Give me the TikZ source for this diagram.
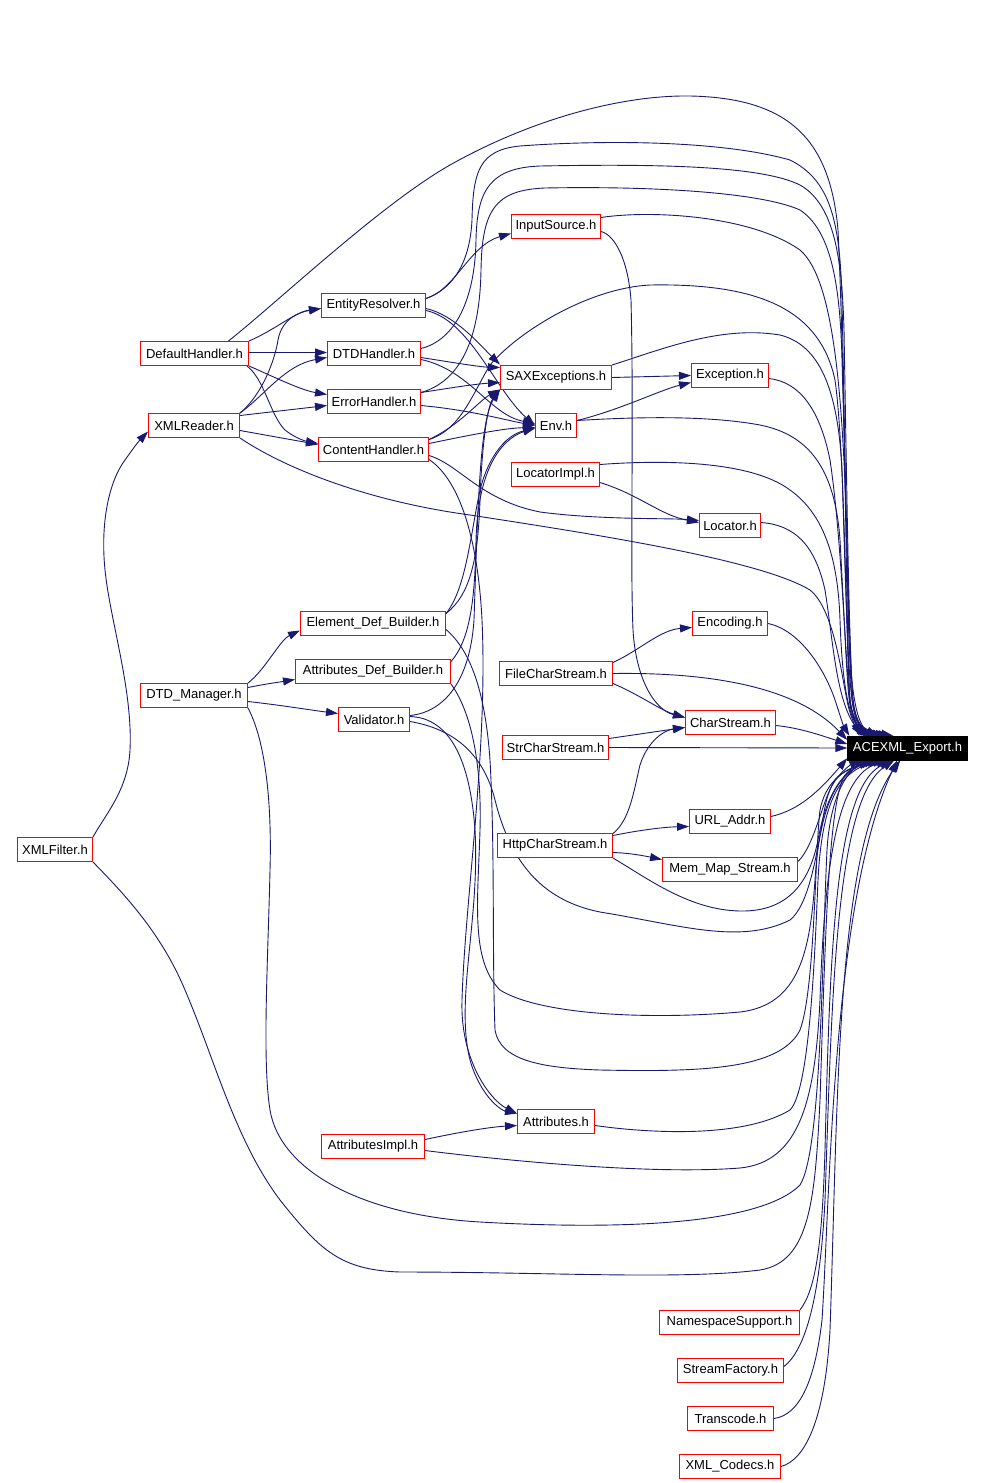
\documentclass[tikz,border=0pt]{standalone}
\usepackage{fontspec}
\setmainfont{Liberation Sans}
\usetikzlibrary{arrows.meta}
\definecolor{edgec}{RGB}{25,25,112}
\pgfdeclarelayer{bg}
\pgfsetlayers{bg,main}
\tikzset{
  box/.style={draw=red, fill=white, line width=1pt, minimum height=24pt, inner xsep=3pt, inner ysep=0pt, font=\fontsize{13}{15}\selectfont},
  rootbox/.style={draw=black, fill=black, text=white, minimum height=24pt, inner xsep=3pt, inner ysep=0pt, font=\fontsize{13}{15}\selectfont},
  lnk/.style={draw=edgec, line width=0.9pt, -{Triangle[length=12pt,width=8pt]}, fill=none}
}
\begin{document}
\begin{tikzpicture}[x=1pt,y=-1pt]
\useasboundingbox (0,0) rectangle (984,1483);
% nodes
\node[rootbox, minimum width=120pt] (ace) at (907.5,748) {ACEXML\_Export.h};
\node[box, minimum width=108pt] (dh) at (194.5,353.5) {DefaultHandler.h};
\node[box, minimum width=91pt] (xr) at (194,425.5) {XMLReader.h};
\node[box, minimum width=104pt] (er) at (373.5,305.5) {EntityResolver.h};
\node[box, minimum width=93pt] (dtd) at (374,353.5) {DTDHandler.h};
\node[box, minimum width=93pt] (eh) at (374,401.5) {ErrorHandler.h};
\node[box, minimum width=110pt] (ch) at (373.5,449.5) {ContentHandler.h};
\node[box, minimum width=89pt] (is) at (556,226.5) {InputSource.h};
\node[box, minimum width=111pt] (sax) at (556,377.5) {SAXExceptions.h};
\node[box, minimum width=41pt] (env) at (556,425.5) {Env.h};
\node[box, minimum width=88pt] (li) at (555.5,474.5) {LocatorImpl.h};
\node[box, minimum width=77pt] (exc) at (730,375.5) {Exception.h};
\node[box, minimum width=61pt] (loc) at (730,525.5) {Locator.h};
\node[box, minimum width=75pt] (enc) at (730,623.5) {Encoding.h};
\node[box, minimum width=90pt] (cs) at (730.5,722.5) {CharStream.h};
\node[box, minimum width=81pt] (url) at (730,821.5) {URL\_Addr.h};
\node[box, minimum width=135pt] (mm) at (730,869.5) {Mem\_Map\_Stream.h};
\node[box, minimum width=113pt] (fcs) at (556,673.5) {FileCharStream.h};
\node[box, minimum width=106pt] (scs) at (555.5,747.5) {StrCharStream.h};
\node[box, minimum width=115pt] (hcs) at (555,845.5) {HttpCharStream.h};
\node[box, minimum width=145pt] (edb) at (373,623.5) {Element\_Def\_Builder.h};
\node[box, minimum width=155pt] (adb) at (373,671.5) {Attributes\_Def\_Builder.h};
\node[box, minimum width=71pt] (val) at (374,719.5) {Validator.h};
\node[box, minimum width=107pt] (dtdm) at (194,695.5) {DTD\_Manager.h};
\node[box, minimum width=75pt] (xf) at (55,849.5) {XMLFilter.h};
\node[box, minimum width=77pt] (att) at (556,1121.5) {Attributes.h};
\node[box, minimum width=103pt] (ai) at (373,1146.5) {AttributesImpl.h};
\node[box, minimum width=140pt] (ns) at (729.5,1322.5) {NamespaceSupport.h};
\node[box, minimum width=106pt] (sf) at (730.5,1370.5) {StreamFactory.h};
\node[box, minimum width=86pt] (tc) at (730.5,1418.5) {Transcode.h};
\node[box, minimum width=101pt] (xc) at (730,1466.5) {XML\_Codecs.h};

\begin{pgfonlayer}{bg}
% XMLFilter
\draw[lnk] (xf.north east) .. controls (105,815) and (128,790) .. (130,750) .. controls (133,690) and (110,620) .. (105,570) .. controls (100,520) and (110,480) .. (125,460) .. controls (132,450) and (138,442) .. ([yshift=-6pt]xr.west);
\draw[lnk] (xf.south east) .. controls (120,890) and (160,930) .. (185,990) .. controls (215,1060) and (235,1140) .. (280,1200) .. controls (320,1250) and (340,1270) .. (400,1272) .. controls (550,1272) and (680,1280) .. (760,1270) .. controls (810,1262) and (815,1200) .. (820,1100) .. controls (825,950) and (828,800) .. (845,775) .. controls (852,767) and (860,762) .. ([xshift=20pt]ace.south west);
% DTD_Manager
\draw[lnk] (dtdm.north east) .. controls (265,670) and (280,640) .. ([yshift=-7pt]edb.west);
\draw[lnk] ([yshift=8pt]dtdm.east) .. controls (265,684) and (280,682) .. ([yshift=-8pt]adb.west);
\draw[lnk] ([yshift=-6pt]dtdm.east) .. controls (280,705) and (310,710) .. ([yshift=6pt]val.west);
\draw[lnk] (dtdm.south east) .. controls (265,740) and (272,800) .. (270,870) .. controls (268,960) and (262,1060) .. (270,1110) .. controls (280,1170) and (360,1215) .. (480,1222) .. controls (620,1230) and (760,1225) .. (800,1185) .. controls (822,1150) and (822,950) .. (827,850) .. controls (830,800) and (845,772) .. ([xshift=23pt]ace.south west);
% DefaultHandler
\draw[lnk] (dh.north east) .. controls (275,330) and (295,312) .. ([yshift=-3pt]er.west);
\draw[lnk] ([yshift=1pt]dh.east) -- ([yshift=1pt]dtd.west);
\draw[lnk] (dh.south east) .. controls (270,375) and (300,390) .. ([yshift=7pt]eh.west);
\draw[lnk] ([xshift=-2pt]dh.south east) .. controls (265,380) and (270,415) .. (285,430) .. controls (295,438) and (305,441) .. ([yshift=6pt]ch.west);
\draw[lnk] ([xshift=34pt]dh.north) .. controls (280,300) and (380,205) .. (450,165) .. controls (530,120) and (620,95) .. (690,96) .. controls (790,98) and (830,140) .. (838,230) .. controls (846,400) and (846,650) .. (850,700) .. controls (852,720) and (860,730) .. ([xshift=46pt]ace.north west);
% XMLReader
\draw[lnk] (xr.north east) .. controls (262,395) and (275,360) .. (278,340) .. controls (282,318) and (300,312) .. ([yshift=-3pt]er.west);
\draw[lnk] (xr.north east) .. controls (265,395) and (285,365) .. ([yshift=-4pt]dtd.west);
\draw[lnk] ([yshift=10pt]xr.east) -- ([yshift=-4pt]eh.west);
\draw[lnk] ([yshift=-5pt]xr.east) -- ([yshift=5pt]ch.west);
\draw[lnk] (xr.south east) .. controls (280,465) and (360,500) .. (470,515) .. controls (600,535) and (760,560) .. (810,590) .. controls (835,610) and (842,680) .. (848,705) .. controls (852,722) and (858,732) .. ([xshift=12pt]ace.north west);
% EntityResolver
\draw[lnk] ([yshift=7pt]er.east) .. controls (455,290) and (470,245) .. ([yshift=-7pt]is.west);
\draw[lnk] ([yshift=-3pt]er.east) .. controls (455,315) and (480,345) .. ([yshift=13pt]sax.west);
\draw[lnk] ([yshift=-5pt]er.east) .. controls (470,320) and (495,390) .. (env.west);
\draw[lnk] ([yshift=7pt]er.east) .. controls (455,288) and (470,260) .. (472,220) .. controls (473,170) and (480,150) .. (520,146) .. controls (600,140) and (720,140) .. (790,160) .. controls (830,180) and (840,220) .. (842,300) .. controls (846,500) and (848,650) .. (852,700) .. controls (855,725) and (862,732) .. ([xshift=43pt]ace.north west);
% DTDHandler
\draw[lnk] ([yshift=-4pt]dtd.east) .. controls (450,362) and (480,367) .. ([yshift=10pt]sax.west);
\draw[lnk] ([yshift=-6pt]dtd.east) .. controls (470,370) and (490,415) .. ([yshift=2pt]env.west);
\draw[lnk] ([yshift=5pt]dtd.east) .. controls (455,340) and (475,300) .. (476,240) .. controls (477,190) and (490,168) .. (540,166) .. controls (650,164) and (760,165) .. (800,185) .. controls (835,205) and (842,260) .. (844,330) .. controls (847,500) and (849,650) .. (853,700) .. controls (856,725) and (864,732) .. ([xshift=40pt]ace.north west);
% ErrorHandler
\draw[lnk] ([yshift=9pt]eh.east) .. controls (450,388) and (475,384) .. ([yshift=-5pt]sax.west);
\draw[lnk] ([yshift=-4pt]eh.east) .. controls (470,410) and (505,420) .. (env.west);
\draw[lnk] ([yshift=9pt]eh.east) .. controls (465,380) and (480,330) .. (481,270) .. controls (482,210) and (495,190) .. (545,188) .. controls (650,186) and (760,192) .. (800,210) .. controls (830,230) and (840,280) .. (842,360) .. controls (846,500) and (849,650) .. (853,700) .. controls (856,725) and (864,732) .. ([xshift=37pt]ace.north west);
% ContentHandler
\draw[lnk] ([yshift=10pt]ch.east) .. controls (460,425) and (480,400) .. ([yshift=-12pt]sax.west);
\draw[lnk] ([yshift=6pt]ch.east) .. controls (470,435) and (505,428) .. ([yshift=-2pt]env.west);
\draw[lnk] ([yshift=-6pt]ch.east) .. controls (460,465) and (480,500) .. (540,512) .. controls (600,520) and (670,518) .. ([yshift=5pt]loc.west);
\draw[lnk] ([yshift=-10pt]ch.east) .. controls (460,480) and (478,540) .. (482,620) .. controls (488,750) and (465,900) .. (462,1000) .. controls (460,1060) and (490,1100) .. ([yshift=8pt]att.west);
\draw[lnk] ([yshift=10pt]ch.east) .. controls (460,430) and (472,395) .. (490,365) .. controls (520,330) and (590,288) .. (650,285) .. controls (760,283) and (820,310) .. (835,380) .. controls (845,450) and (846,650) .. (850,700) .. controls (853,722) and (860,731) .. ([xshift=34pt]ace.north west);
% InputSource
\draw[lnk] ([yshift=9pt]is.east) .. controls (650,210) and (750,215) .. (800,250) .. controls (835,280) and (845,400) .. (848,600) .. controls (849,680) and (855,725) .. ([xshift=31pt]ace.north west);
\draw[lnk] ([yshift=-5pt]is.east) .. controls (615,235) and (628,260) .. (631,300) .. controls (634,420) and (630,560) .. (633,630) .. controls (636,680) and (655,710) .. ([yshift=5pt]cs.west);
% SAXExceptions, Env, Exception
\draw[lnk] (sax.east) -- (exc.west);
\draw[lnk] (sax.north east) .. controls (660,350) and (720,325) .. (780,335) .. controls (820,345) and (838,390) .. (842,470) .. controls (846,600) and (848,680) .. (853,705) .. controls (857,725) and (864,733) .. ([xshift=28pt]ace.north west);
\draw[lnk] ([yshift=5pt]env.east) .. controls (620,410) and (660,390) .. ([yshift=-7pt]exc.west);
\draw[lnk] ([yshift=5pt]env.east) .. controls (620,418) and (700,414) .. (760,425) .. controls (810,435) and (835,470) .. (840,540) .. controls (845,630) and (847,690) .. (850,705) .. controls (853,722) and (860,731) .. ([xshift=22pt]ace.north west);
\draw[lnk] ([yshift=-3pt]exc.east) .. controls (800,382) and (820,410) .. (830,460) .. controls (842,540) and (845,660) .. (850,700) .. controls (853,722) and (860,731) .. ([xshift=25pt]ace.north west);
% LocatorImpl, Locator, Encoding
\draw[lnk] ([yshift=-8pt]li.east) .. controls (640,495) and (660,515) .. ([yshift=3pt]loc.west);
\draw[lnk] ([yshift=10pt]li.east) .. controls (660,460) and (750,460) .. (790,490) .. controls (825,515) and (838,560) .. (840,620) .. controls (842,680) and (848,715) .. ([xshift=18pt]ace.north west);
\draw[lnk] ([yshift=3pt]loc.east) .. controls (795,525) and (815,545) .. (825,590) .. controls (833,640) and (836,700) .. ([xshift=15pt]ace.north west);
\draw[lnk] (enc.east) .. controls (800,630) and (825,670) .. (835,700) .. controls (840,715) and (843,725) .. ([xshift=2pt]ace.north west);
% CharStreams
\draw[lnk] ([yshift=11pt]fcs.east) .. controls (640,650) and (660,630) .. ([yshift=-4pt]enc.west);
\draw[lnk] ([yshift=-10pt]fcs.east) .. controls (640,695) and (660,710) .. ([yshift=5pt]cs.west);
\draw[lnk] (fcs.east) .. controls (720,672) and (800,690) .. ([yshift=8pt]ace.west);
\draw[lnk] ([yshift=-3pt]cs.east) .. controls (800,728) and (820,735) .. ([yshift=4pt]ace.west);
\draw[lnk] ([yshift=9pt]scs.east) .. controls (640,734) and (660,731) .. ([yshift=-5pt]cs.west);
\draw[lnk] (scs.east) -- (ace.west);
\draw[lnk] ([yshift=12pt]hcs.east) .. controls (630,820) and (634,790) .. (640,765) .. controls (648,740) and (665,730) .. ([yshift=-5pt]cs.west);
\draw[lnk] ([yshift=10pt]hcs.east) .. controls (640,830) and (665,827) .. ([yshift=-5pt]url.west);
\draw[lnk] ([yshift=-7pt]hcs.east) .. controls (630,853) and (645,856) .. ([yshift=10pt]mm.west);
\draw[lnk] (hcs.south east) .. controls (650,880) and (690,910) .. (740,911) .. controls (790,912) and (810,880) .. (818,840) .. controls (825,800) and (840,772) .. ([xshift=26pt]ace.south west);
\draw[lnk] ([yshift=5pt]url.east) .. controls (800,810) and (820,790) .. ([yshift=2pt]ace.south west);
\draw[lnk] ([yshift=8pt]mm.east) .. controls (815,845) and (822,800) .. (835,780) .. controls (845,768) and (852,764) .. ([xshift=14pt]ace.south west);
% builders and validator
\draw[lnk] ([yshift=10pt]edb.east) .. controls (470,595) and (478,560) .. (480,500) .. controls (482,440) and (488,405) .. ([yshift=-12pt]sax.west);
\draw[lnk] ([yshift=10pt]edb.east) .. controls (465,590) and (470,540) .. (478,500) .. controls (485,460) and (505,435) .. ([yshift=-3pt]env.west);
\draw[lnk] ([yshift=10pt]adb.east) .. controls (470,640) and (475,600) .. (476,540) .. controls (478,470) and (500,440) .. ([yshift=-2pt]env.west);
\draw[lnk] ([yshift=4pt]val.east) .. controls (445,712) and (470,680) .. (474,620) .. controls (478,500) and (480,420) .. ([yshift=-12pt]sax.west);
\draw[lnk] ([yshift=3pt]val.east) .. controls (450,718) and (470,760) .. (475,830) .. controls (480,920) and (455,1000) .. (470,1060) .. controls (480,1095) and (500,1110) .. ([yshift=8pt]att.west);
\draw[lnk] ([yshift=-6pt]edb.east) .. controls (470,650) and (485,690) .. (490,760) .. controls (495,850) and (492,950) .. (495,1030) .. controls (500,1060) and (540,1068) .. (600,1070) .. controls (700,1072) and (780,1070) .. (800,1030) .. controls (815,990) and (815,850) .. (820,810) .. controls (825,785) and (840,770) .. ([xshift=29pt]ace.south west);
\draw[lnk] (adb.south east) .. controls (470,710) and (482,760) .. (480,830) .. controls (478,900) and (470,960) .. (500,990) .. controls (540,1015) and (650,1020) .. (740,1012) .. controls (800,1005) and (810,950) .. (815,880) .. controls (820,800) and (840,770) .. ([xshift=32pt]ace.south west);
\draw[lnk] ([yshift=-2pt]val.east) .. controls (460,730) and (485,760) .. (495,800) .. controls (510,860) and (540,900) .. (600,912) .. controls (680,925) and (740,945) .. (790,920) .. controls (815,900) and (820,820) .. (828,795) .. controls (835,775) and (845,768) .. ([xshift=35pt]ace.south west);
% Attributes
\draw[lnk] ([yshift=7pt]ai.east) .. controls (460,1132) and (490,1127) .. ([yshift=-4pt]att.west);
\draw[lnk] ([yshift=-4pt]att.east) .. controls (640,1132) and (740,1140) .. (790,1110) .. controls (810,1090) and (815,950) .. (818,880) .. controls (822,800) and (840,770) .. ([xshift=38pt]ace.south west);
\draw[lnk] ([yshift=-4pt]ai.east) .. controls (500,1160) and (650,1175) .. (740,1168) .. controls (800,1162) and (815,1100) .. (820,1000) .. controls (825,850) and (840,775) .. ([xshift=41pt]ace.south west);
% bottom group
\draw[lnk] (ns.north east) .. controls (815,1290) and (822,1250) .. (825,1150) .. controls (830,950) and (835,790) .. ([xshift=44pt]ace.south west);
\draw[lnk] ([yshift=4pt]sf.east) .. controls (805,1350) and (820,1300) .. (825,1200) .. controls (832,1000) and (835,800) .. ([xshift=47pt]ace.south west);
\draw[lnk] (tc.east) .. controls (800,1415) and (815,1380) .. (822,1320) .. controls (830,1200) and (832,900) .. ([xshift=50pt]ace.south west);
\draw[lnk] (xc.east) .. controls (805,1460) and (825,1420) .. (830,1330) .. controls (838,1100) and (836,850) .. ([xshift=53pt]ace.south west);
\end{pgfonlayer}
\end{tikzpicture}
\end{document}
